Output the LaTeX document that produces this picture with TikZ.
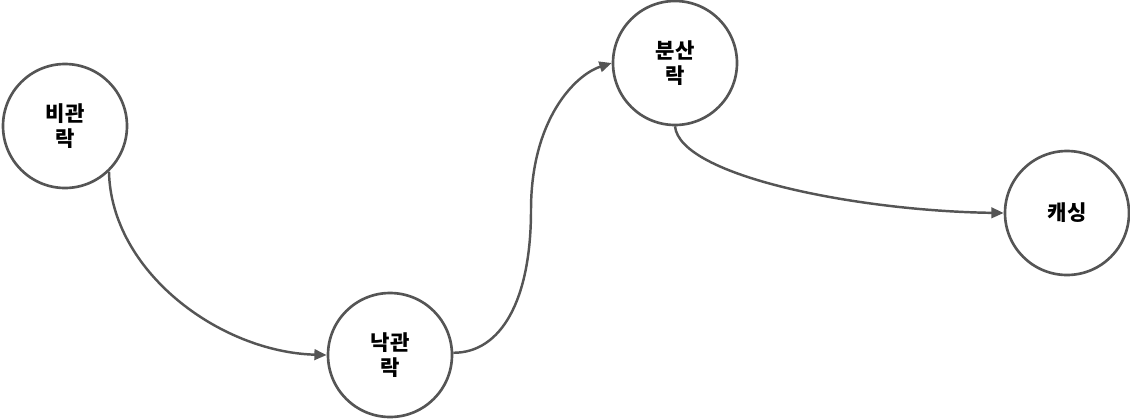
\documentclass[tikz,border=0pt]{standalone}
\usepackage{fontspec}
\newfontfamily\kofont{Noto Sans CJK KR}
\usetikzlibrary{arrows.meta}
\definecolor{edgegray}{HTML}{555555}
\tikzset{
  lockcircle/.style={circle, draw=edgegray, line width=1.5pt, fill=white, minimum size=2.48cm, inner sep=0pt, align=center, font=\kofont\bfseries\fontsize{12}{14}\selectfont},
  flow/.style={draw=edgegray, line width=1.4pt, -{Triangle[length=7pt, width=6pt]}},
}
\begin{document}
\begin{tikzpicture}
\useasboundingbox (0,0) rectangle (22.6,8.36);
\node[lockcircle] (pessim) at (1.300,5.840) {비관\\락};
\node[lockcircle] (optim) at (7.800,1.260) {낙관\\락};
\node[lockcircle] (distrib) at (13.500,7.100) {분산\\락};
\node[lockcircle] (cache) at (21.340,4.100) {캐싱};
\coordinate (kink) at (10.620,4.160);
\draw[flow] (pessim.-46) .. controls +(0.04,-2.0) and +(-2.14,0.06) .. (optim.west);
\draw[flow] (optim.2) .. controls +(0.96,0) and +(0,-1.8) .. (kink) .. controls +(0,1.8) and +(-0.74,-0.24) .. (distrib.west);
\draw[flow] (distrib.south) .. controls +(0.1,-1.0) and +(-2.9,0.04) .. (cache.west);
\end{tikzpicture}
\end{document}
